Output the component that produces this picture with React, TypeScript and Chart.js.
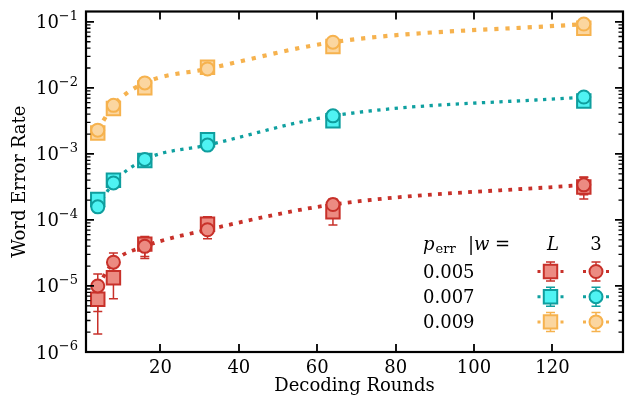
import React, { useEffect, useRef } from 'react';
import { Chart, registerables } from 'chart.js';

Chart.register(...registerables);

// ---------------- data ----------------
const rounds = [4, 8, 16, 32, 64, 128];
const xTickValues = [20, 40, 60, 80, 100, 120];
const yDecades = [-6, -5, -4, -3, -2, -1];
const pErrLabels = ['0.005', '0.007', '0.009'];
const wLabels = ['L', '3'];

// p_err = 0.005
const werL005 = [6.3e-6, 1.33e-5, 4.3e-5, 8.6e-5, 1.33e-4, 3.16e-4];
const werL005Lo = [1.87e-6, 6.4e-6, 2.6e-5, 6.0e-5, 8.4e-5, 2.07e-4];
const werL005Hi = [1.17e-5, 2.0e-5, 5.6e-5, 1.12e-4, 1.8e-4, 4.47e-4];
const wer3005 = [1.0e-5, 2.29e-5, 3.98e-5, 7.1e-5, 1.71e-4, 3.4e-4];
const wer3005Lo = [4.1e-6, 1.7e-5, 2.8e-5, 5.2e-5, 1.35e-4, 2.4e-4];
const wer3005Hi = [1.52e-5, 3.16e-5, 5.4e-5, 9.5e-5, 2.1e-4, 4.4e-4];
// p_err = 0.007
const werL007 = [2.04e-4, 3.98e-4, 7.96e-4, 1.64e-3, 3.18e-3, 6.34e-3];
const wer3007 = [1.58e-4, 3.63e-4, 8.24e-4, 1.36e-3, 3.77e-3, 7.28e-3];
// p_err = 0.009
const werL009 = [2.07e-3, 4.86e-3, 1.0e-2, 2.05e-2, 4.24e-2, 7.98e-2];
const wer3009 = [2.29e-3, 5.44e-3, 1.19e-2, 1.94e-2, 4.92e-2, 9.27e-2];

// ---------------- styles ----------------
const SERIF = '"DejaVu Serif", serif';
const FS = 18;
const SUP = 13;
const RED = { edge: '#c8312a', fill: '#ec8b82', line: '#c8312a', lw: 3.8 };
const TEAL = { edge: '#0f9e9e', fill: '#4ff3f3', line: '#0fa0a0', lw: 3.3 };
const ORANGE = { edge: '#f6b24e', fill: '#fbd6a0', line: '#f6b24e', lw: 4.2 };
const COLORS = [RED, TEAL, ORANGE];
const SQ_R = 9.5;
const CI_R = 6.5;

type Col = typeof RED;

const pts = (ys: number[]) => rounds.map((x, i) => ({ x, y: ys[i] }));

function fitLine(ys: number[], c: Col) {
  return {
    data: pts(ys),
    showLine: true,
    borderColor: c.line,
    backgroundColor: c.line,
    borderWidth: c.lw,
    borderDash: [c.lw, c.lw * 1.65],
    borderCapStyle: 'butt',
    pointRadius: 0,
    cubicInterpolationMode: 'monotone',
    fill: false,
    order: 3,
  };
}
function squares(ys: number[], c: Col) {
  return {
    data: pts(ys),
    showLine: false,
    pointStyle: 'rect',
    pointRadius: SQ_R,
    pointBorderWidth: 2,
    borderColor: c.edge,
    backgroundColor: c.fill,
    pointBackgroundColor: c.fill,
    pointBorderColor: c.edge,
    order: 2,
  };
}
function circles(ys: number[], c: Col) {
  return {
    data: pts(ys),
    showLine: false,
    pointStyle: 'circle',
    pointRadius: CI_R,
    pointBorderWidth: 2,
    borderColor: c.edge,
    backgroundColor: c.fill,
    pointBackgroundColor: c.fill,
    pointBorderColor: c.edge,
    order: 1,
  };
}

const errorBars = [
  { color: RED.edge, lo: werL005Lo, hi: werL005Hi },
  { color: RED.edge, lo: wer3005Lo, hi: wer3005Hi },
];

const errorBarPlugin = {
  id: 'errorBars',
  beforeDatasetsDraw(chart: any) {
    const { ctx, chartArea } = chart;
    const xs = chart.scales.x;
    const ys = chart.scales.y;
    ctx.save();
    ctx.beginPath();
    ctx.rect(chartArea.left, chartArea.top, chartArea.right - chartArea.left, chartArea.bottom - chartArea.top);
    ctx.clip();
    ctx.lineWidth = 1.5;
    for (const eb of errorBars) {
      ctx.strokeStyle = eb.color;
      rounds.forEach((r, i) => {
        const x = xs.getPixelForValue(r);
        const y1 = ys.getPixelForValue(eb.lo[i]);
        const y2 = ys.getPixelForValue(eb.hi[i]);
        ctx.beginPath();
        ctx.moveTo(x, y1);
        ctx.lineTo(x, y2);
        ctx.moveTo(x - 4.5, y1);
        ctx.lineTo(x + 4.5, y1);
        ctx.moveTo(x - 4.5, y2);
        ctx.lineTo(x + 4.5, y2);
        ctx.stroke();
      });
    }
    ctx.restore();
  },
};

const framePlugin = {
  id: 'frameTicks',
  afterDatasetsDraw(chart: any) {
    const { ctx, chartArea } = chart;
    const { left, right, top, bottom } = chartArea;
    const xs = chart.scales.x;
    const ys = chart.scales.y;
    ctx.save();
    ctx.strokeStyle = '#000';
    ctx.fillStyle = '#000';
    ctx.lineWidth = 1.8;
    for (const v of xTickValues) {
      const x = Math.round(xs.getPixelForValue(v));
      ctx.beginPath();
      ctx.moveTo(x, bottom);
      ctx.lineTo(x, bottom - 8);
      ctx.moveTo(x, top);
      ctx.lineTo(x, top + 8);
      ctx.stroke();
    }
    for (const n of yDecades) {
      for (let k = 1; k <= 9; k++) {
        const v = k * Math.pow(10, n);
        if (v < ys.min * 0.999 || v > ys.max) continue;
        const y = ys.getPixelForValue(v);
        const len = k === 1 ? 8 : 4.5;
        ctx.lineWidth = k === 1 ? 1.8 : 1.3;
        ctx.beginPath();
        ctx.moveTo(left, y);
        ctx.lineTo(left + len, y);
        ctx.moveTo(right, y);
        ctx.lineTo(right - len, y);
        ctx.stroke();
      }
    }
    ctx.lineWidth = 2.2;
    ctx.strokeRect(left, top, right - left, bottom - top);

    ctx.textBaseline = 'alphabetic';
    ctx.textAlign = 'left';
    for (const n of yDecades) {
      const y = ys.getPixelForValue(Math.pow(10, n));
      const sup = '\u2212' + Math.abs(n);
      ctx.font = `${SUP}px ${SERIF}`;
      const sw = ctx.measureText(sup).width;
      ctx.font = `${FS}px ${SERIF}`;
      const bw = ctx.measureText('10').width;
      const rightEdge = left - 8;
      ctx.fillText('10', rightEdge - sw - bw, y + 6.5);
      ctx.font = `${SUP}px ${SERIF}`;
      ctx.fillText(sup, rightEdge - sw, y - 2);
    }
    ctx.restore();
  },
};

const legendPlugin = {
  id: 'tableLegend',
  afterDraw(chart: any) {
    const { ctx } = chart;
    ctx.save();
    ctx.fillStyle = '#000';
    ctx.textBaseline = 'alphabetic';
    ctx.textAlign = 'left';
    const hy = 249.5;
    ctx.font = `italic ${FS}px ${SERIF}`;
    ctx.fillText('p', 423, hy);
    const pw = ctx.measureText('p').width;
    ctx.font = `${SUP}px ${SERIF}`;
    ctx.fillText('err', 423 + pw + 1, hy + 3);
    ctx.font = `${FS}px ${SERIF}`;
    ctx.fillText('|', 468, hy);
    ctx.font = `italic ${FS}px ${SERIF}`;
    ctx.fillText('w', 474, hy);
    ctx.font = `${FS}px ${SERIF}`;
    ctx.fillText('=', 495, hy);
    ctx.textAlign = 'center';
    ctx.font = `italic ${FS}px ${SERIF}`;
    ctx.fillText(wLabels[0], 553, hy);
    ctx.font = `${FS}px ${SERIF}`;
    ctx.fillText(wLabels[1], 596, hy);

    const colX = [550.5, 596];
    pErrLabels.forEach((lab, r) => {
      const cy = 271.5 + r * 25.2;
      const c = COLORS[r];
      ctx.textAlign = 'left';
      ctx.fillStyle = '#000';
      ctx.font = `${FS}px ${SERIF}`;
      ctx.fillText(lab, 423, cy + 6.5);
      colX.forEach((cx, j) => {
        ctx.save();
        ctx.strokeStyle = c.line;
        ctx.lineWidth = 3;
        ctx.setLineDash([3, 20, 3, 100]);
        ctx.beginPath();
        ctx.moveTo(cx - 13, cy);
        ctx.lineTo(cx + 13, cy);
        ctx.stroke();
        ctx.restore();
        ctx.strokeStyle = c.edge;
        ctx.lineWidth = 1.5;
        ctx.beginPath();
        ctx.moveTo(cx, cy - 9.5);
        ctx.lineTo(cx, cy + 9.5);
        ctx.moveTo(cx - 4.5, cy - 9.5);
        ctx.lineTo(cx + 4.5, cy - 9.5);
        ctx.moveTo(cx - 4.5, cy + 9.5);
        ctx.lineTo(cx + 4.5, cy + 9.5);
        ctx.stroke();
        ctx.fillStyle = c.fill;
        ctx.strokeStyle = c.edge;
        ctx.lineWidth = 2;
        ctx.beginPath();
        if (j === 0) {
          const s = SQ_R * Math.SQRT1_2;
          ctx.rect(cx - s, cy - s, 2 * s, 2 * s);
        } else {
          ctx.arc(cx, cy, CI_R, 0, Math.PI * 2);
        }
        ctx.fill();
        ctx.stroke();
      });
    });
    ctx.restore();
  },
};

export default function App() {
  const ref = useRef<HTMLCanvasElement>(null);
  useEffect(() => {
    document.body.style.margin = '0';
    const canvas = ref.current!;
    const font = { family: SERIF, size: FS };
    const chart = new Chart(canvas, {
      type: 'scatter',
      data: {
        datasets: [
          fitLine(wer3005, RED),
          fitLine(wer3007, TEAL),
          fitLine(wer3009, ORANGE),
          squares(werL005, RED),
          squares(werL007, TEAL),
          squares(werL009, ORANGE),
          circles(wer3005, RED),
          circles(wer3007, TEAL),
          circles(wer3009, ORANGE),
        ] as any,
      },
      options: {
        animation: false,
        responsive: false,
        events: [],
        layout: { padding: { left: 0, right: 13, top: 8, bottom: 0 } },
        plugins: { legend: { display: false }, tooltip: { enabled: false } },
        scales: {
          x: {
            type: 'linear',
            min: 1,
            max: 138,
            afterFit: (s: any) => { s.height = 45; },
            grid: { display: false, drawTicks: false },
            border: { display: false },
            ticks: {
              stepSize: 20,
              includeBounds: false,
              autoSkip: false,
              maxRotation: 0,
              padding: 6,
              color: '#000',
              font,
              callback: (v: any) => String(v),
            },
            title: { display: true, text: 'Decoding Rounds', color: '#000', font, padding: { top: 0, bottom: 0 } },
          },
          y: {
            type: 'logarithmic',
            min: 1e-6,
            max: 0.1435,
            afterFit: (s: any) => { s.width = 86; },
            grid: { display: false, drawTicks: false },
            border: { display: false },
            ticks: { display: false },
            title: { display: true, text: 'Word Error Rate', color: '#000', font, padding: { top: 10, bottom: 0 } },
          },
        },
      } as any,
      plugins: [errorBarPlugin, framePlugin, legendPlugin],
    });
    return () => chart.destroy();
  }, []);
  return <canvas ref={ref} width={636} height={397} style={{ display: 'block', width: 636, height: 397 }} />;
}
